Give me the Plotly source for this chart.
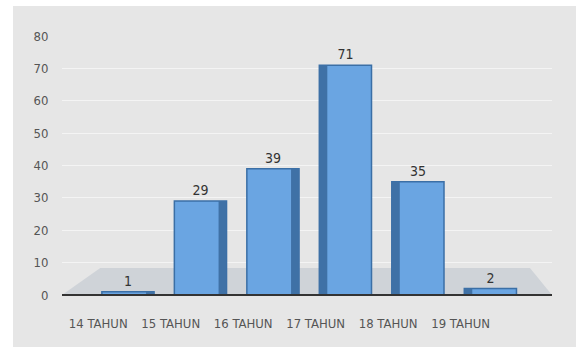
import plotly.graph_objects as go

categories = ["14 TAHUN", "15 TAHUN", "16 TAHUN", "17 TAHUN", "18 TAHUN", "19 TAHUN"]
values = [1, 29, 39, 71, 35, 2]
y_ticks = [0, 10, 20, 30, 40, 50, 60, 70, 80]

FONT = "DejaVu Sans Condensed, Liberation Sans, Arial"

# side face positions (perspective: left bars show right side, right bars show left side)
side_offset = [0.66, 0.66, 0.66, 0.05, 0.05, 0.05]

fig = go.Figure()
fig.add_trace(go.Bar(
    x=categories, y=values,
    width=0.72, offset=0.05,
    marker=dict(color="#6aa5e2", line=dict(color="#3b6fa6", width=1.5)),
    text=[str(v) for v in values], textposition="outside",
    textfont=dict(family=FONT, size=14, color="#333333"),
    cliponaxis=False, showlegend=False,
))
fig.add_trace(go.Bar(
    x=categories, y=values,
    width=0.11, offset=side_offset,
    marker=dict(color="#3f71a6", line=dict(width=0)),
    showlegend=False, hoverinfo="skip",
))

fig.update_layout(
    width=576, height=347,
    margin=dict(l=62, r=24, t=36, b=52),
    paper_bgcolor="#e6e6e6",
    plot_bgcolor="rgba(0,0,0,0)",
    barmode="overlay",
    showlegend=False,
    xaxis=dict(
        range=[-0.5, 6.26],
        tickmode="array", tickvals=list(range(len(categories))), ticktext=categories,
        tickfont=dict(family=FONT, size=13, color="#555555"),
        showgrid=False, zeroline=False,
        showline=False, ticks="outside", ticklen=16, tickcolor="rgba(0,0,0,0)",
    ),
    yaxis=dict(
        range=[0, 80],
        tickmode="array", tickvals=y_ticks,
        tickfont=dict(family=FONT, size=13, color="#555555"),
        showgrid=True, gridcolor="#f4f4f4", gridwidth=1,
        zeroline=False, showline=False,
        ticks="outside", ticklen=10, tickcolor="rgba(0,0,0,0)",
    ),
    shapes=[
        # white margins of the original picture
        dict(type="rect", xref="paper", yref="paper", x0=-0.2, x1=-0.1, y0=-0.3, y1=1.3,
             fillcolor="white", line=dict(width=0), layer="below"),
        dict(type="rect", xref="paper", yref="paper", x0=-0.2, x1=1.2, y0=1.116, y1=1.3,
             fillcolor="white", line=dict(width=0), layer="below"),
        # floor
        dict(type="path", xref="paper", yref="paper",
             path="M 0,0 L 1,0 L 0.955,0.104 L 0.078,0.104 Z",
             fillcolor="#cfd3d8", line=dict(width=0), layer="below"),
        # axis line
        dict(type="line", xref="paper", yref="paper", x0=0, x1=1, y0=0, y1=0,
             line=dict(color="#333333", width=2)),
    ],
)

fig.write_html("out.html")
